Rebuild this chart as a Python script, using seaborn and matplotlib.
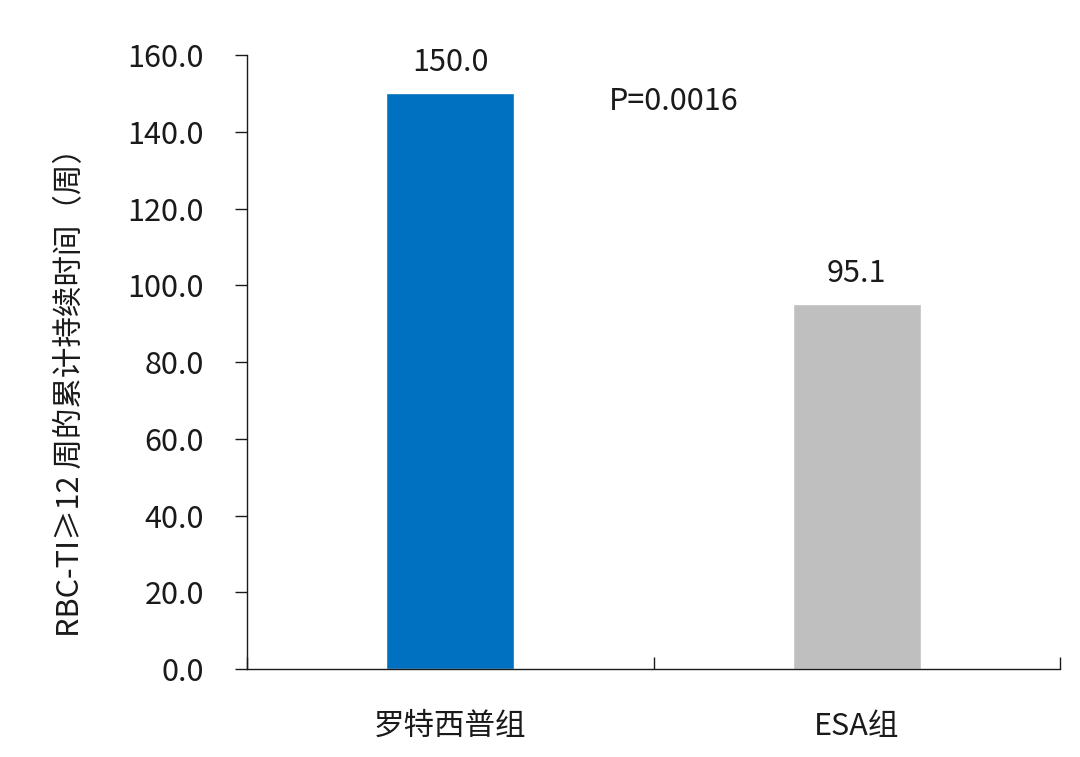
import matplotlib
matplotlib.use("Agg")
import matplotlib.pyplot as plt
import seaborn as sns

groups = ["罗特西普组", "ESA组"]
weeks = [150.0, 95.1]
bar_colors = ["#0070C0", "#BFBFBF"]
y_ticks = [0, 20, 40, 60, 80, 100, 120, 140, 160]
p_text = "P=0.0016"

sns.set_style("white")
plt.rcParams['font.family'] = ['Noto Sans CJK SC', 'DejaVu Sans']

fig = plt.figure(figsize=(10.8, 7.57), dpi=100)
ax = fig.add_axes([0.2287, 0.1162, 0.7528, 0.8111])

sns.barplot(x=groups, y=weeks, hue=groups, palette=bar_colors, width=0.315,
            saturation=1, legend=False, ax=ax)

for c in ax.containers:
    ax.bar_label(c, fmt="%.1f", padding=11, fontsize=22, color="#1a1a1a")

ax.text(0.39, 147.8, p_text, ha="left", va="center", fontsize=22, color="#1a1a1a")

ax.set_xlim(-0.5, 1.5)
ax.set_ylim(0, 160)
ax.set_yticks(y_ticks)
ax.set_yticklabels([f"{v:.1f}" for v in y_ticks], fontsize=22, color="#1a1a1a")
ax.set_xticks([0, 1])
ax.set_xticklabels(groups, fontsize=22, color="#1a1a1a")
ax.set_xticks([-0.5, 0.5, 1.5], minor=True)

ax.tick_params(axis="y", direction="out", length=9, width=1, pad=22, left=True, color="#1a1a1a")
ax.tick_params(axis="x", which="major", length=0, pad=30)
ax.tick_params(axis="x", which="minor", direction="in", length=9, width=1, bottom=True, color="#1a1a1a")

ax.set_ylabel("RBC-TI≥12 周的累计持续时间（周）", fontsize=22, color="#1a1a1a")
ax.yaxis.set_label_coords(-0.198, 0.4625)
ax.set_xlabel("")

sns.despine(ax=ax)
for s in ["left", "bottom"]:
    ax.spines[s].set_color("#1a1a1a")
    ax.spines[s].set_linewidth(1.0)
ax.grid(False)

fig.savefig("out.png", dpi=100)
